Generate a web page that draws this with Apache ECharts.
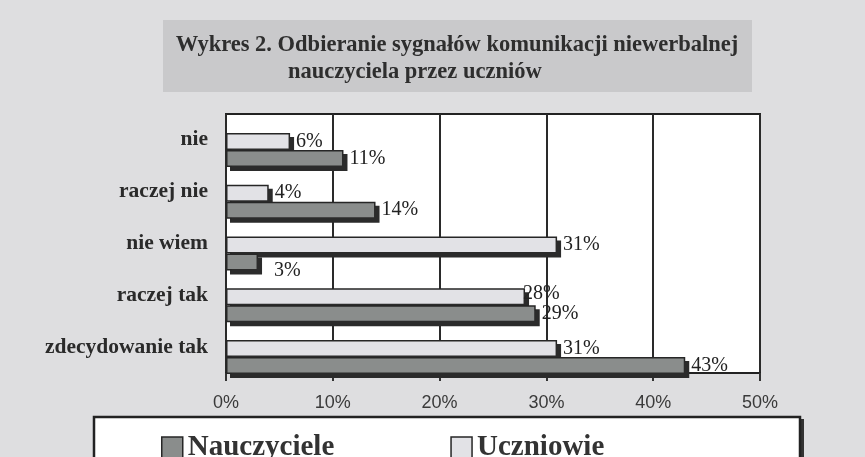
<!DOCTYPE html>
<html>
<head>
<meta charset="utf-8">
<script src="https://cdn.jsdelivr.net/npm/echarts@6/dist/echarts.min.js"></script>
<style>
html,body{margin:0;padding:0;background:#dedee0;}
#c{width:865px;height:457px;}
</style>
</head>
<body>
<div id="c"></div>
<script>
// ---- data ----
const categories = ['nie', 'raczej nie', 'nie wiem', 'raczej tak', 'zdecydowanie tak'];
const uczniowie = [6, 4, 31, 28, 31];
const nauczyciele = [11, 14, 3, 29, 43];
const seriesNames = ['Nauczyciele', 'Uczniowie'];
const titleLines = ['Wykres 2. Odbieranie sygnałów komunikacji niewerbalnej', 'nauczyciela przez uczniów'];
const xMin = 0, xMax = 50, xStep = 10;

// ---- chart ----
const chart = echarts.init(document.getElementById('c'), null, {renderer: 'canvas'});
const SERIF = '"Liberation Serif", "Times New Roman", serif';
const SANS = '"Liberation Sans", Arial, sans-serif';
const SHADOW = '#2b2b2b';

const ucOffsets = {3: [-8, -3]};
const naOffsets = {2: [10, 9]};

function mkData(arr, offs) {
  return arr.map((v, i) => offs[i] ? {value: v, label: {offset: offs[i]}} : v);
}

const barLabel = {
  show: true, position: 'right', distance: 6,
  formatter: '{c}%', fontFamily: SERIF, fontSize: 20, color: '#222'
};

chart.setOption({
  backgroundColor: '#dedee0',
  animation: false,
  graphic: [
    {type: 'rect', z: 0, shape: {x: 163, y: 20, width: 589, height: 72}, style: {fill: '#c9c9cb'}},
    {type: 'text', z: 1, x: 457, y: 45, style: {text: titleLines[0], font: 'bold 22.5px ' + SERIF, fill: '#2e2e2e', align: 'center', verticalAlign: 'middle'}},
    {type: 'text', z: 1, x: 288, y: 72, style: {text: titleLines[1], font: 'bold 22.5px ' + SERIF, fill: '#2e2e2e', align: 'left', verticalAlign: 'middle'}},
    {type: 'rect', z: 0, shape: {x: 98, y: 419, width: 706, height: 60}, style: {fill: '#333'}},
    {type: 'rect', z: 1, shape: {x: 94, y: 417, width: 706, height: 60},
     style: {fill: '#fff', stroke: '#222', lineWidth: 2.5}}
  ],
  legend: {
    data: seriesNames,
    left: 156, top: 428,
    itemWidth: 21, itemHeight: 21, itemGap: 116,
    icon: 'rect',
    itemStyle: {shadowBlur: 0, shadowOffsetX: 0, shadowOffsetY: 0, shadowColor: 'transparent', borderWidth: 1.5},
    textStyle: {fontFamily: SERIF, fontWeight: 'bold', fontSize: 29, color: '#333'},
    z: 10
  },
  grid: [
    {left: 226, right: 105, top: 114, height: 259, show: true, backgroundColor: '#fff', borderColor: '#222', borderWidth: 2, containLabel: false},
    {left: 226, right: 105, top: 124, height: 259, show: false, containLabel: false}
  ],
  xAxis: [
    {type: 'value', gridIndex: 0, min: xMin, max: xMax, interval: xStep,
     axisLine: {show: true, lineStyle: {color: '#222', width: 2}},
     axisTick: {show: true, length: 8, lineStyle: {color: '#333', width: 2}},
     axisLabel: {formatter: '{value}%', fontFamily: SANS, fontSize: 18, color: '#3a3a3a', margin: 21},
     splitLine: {show: true, lineStyle: {color: '#2a2a2a', width: 2}}},
    {type: 'value', gridIndex: 1, min: xMin, max: xMax, interval: xStep, show: false}
  ],
  yAxis: [
    {type: 'category', gridIndex: 0, data: categories, inverse: true,
     axisLine: {show: false}, axisTick: {show: false},
     axisLabel: {fontFamily: SERIF, fontWeight: 'bold', fontSize: 21.5, color: '#2a2a2a', margin: 18}},
    {type: 'category', gridIndex: 1, data: categories, inverse: true, show: false}
  ],
  series: [
    {name: 'Uczniowie', type: 'bar', xAxisIndex: 1, yAxisIndex: 1, barWidth: 17, barGap: '0%',
     data: mkData(uczniowie, ucOffsets),
     itemStyle: {color: '#e2e2e6', borderColor: '#262626', borderWidth: 3, shadowColor: SHADOW, shadowOffsetX: 4, shadowOffsetY: 4, shadowBlur: 0},
     label: barLabel},
    {name: 'Nauczyciele', type: 'bar', xAxisIndex: 1, yAxisIndex: 1, barWidth: 17, barGap: '0%',
     data: mkData(nauczyciele, naOffsets),
     itemStyle: {color: '#8a8d8c', borderColor: '#262626', borderWidth: 3, shadowColor: SHADOW, shadowOffsetX: 4, shadowOffsetY: 4, shadowBlur: 0},
     label: barLabel}
  ]
});

// draw each bar's outline before its fill so the offset shadow of the outline does not show inside the bar
chart.getZr().storage.getDisplayList(true).forEach(function (el) {
  if (el.type === 'rect' && el.style && el.style.shadowColor === SHADOW) {
    el.style.strokeFirst = true;
    el.markRedraw();
  }
});
chart.getZr().refreshImmediately();
</script>
</body>
</html>
